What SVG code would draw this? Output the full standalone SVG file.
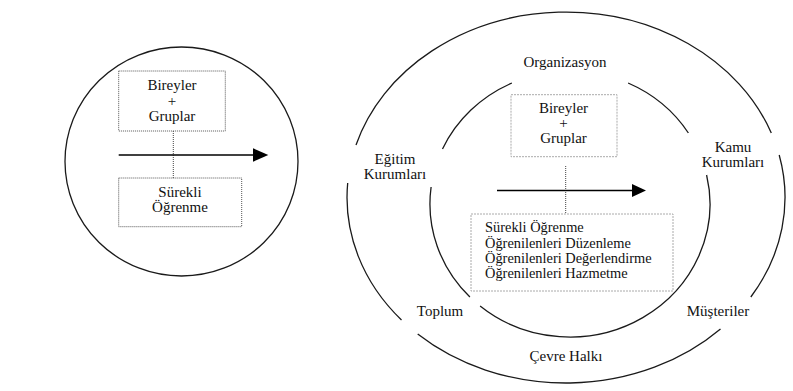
<svg xmlns="http://www.w3.org/2000/svg" width="793" height="391" viewBox="0 0 793 391">
<style>
.ring{fill:none;stroke:#1a1a1a;stroke-width:1.3}
.t{font-family:'Liberation Serif',serif;font-size:15px;fill:#111}
.s{font-size:14.4px}
.c{text-anchor:middle}
.dotbox{fill:#fff;stroke:#555;stroke-width:1;stroke-dasharray:1 1}
.dashbox{fill:#fff;stroke:#aaa;stroke-width:1;stroke-dasharray:2 1}
.dotline{stroke:#444;stroke-width:1;stroke-dasharray:1 1;fill:none}
.arrow{stroke:#000;stroke-width:1.6;fill:none}
</style>
<rect width="793" height="391" fill="#fff"/>
<g id="left-circle">
<ellipse class="ring" cx="181.5" cy="161.5" rx="116.5" ry="114.5"/>
</g>
<g id="outer-ring">
<path class="ring" d="M356,145 A219,185.5 0 0 1 771.3,133"/>
<path class="ring" d="M779.2,155 A219,185.5 0 0 1 750.8,297"/>
<path class="ring" d="M720.5,329 A219,185.5 0 0 1 417.7,334"/>
<path class="ring" d="M401.5,320 A219,185.5 0 0 1 347.7,183"/>
</g>
<g id="inner-ring">
<path class="ring" d="M442.5,149 A140,133 0 0 1 511.9,83"/>
<path class="ring" d="M628.1,83 A140,133 0 0 1 688.4,133"/>
<path class="ring" d="M706.6,175 A140,133 0 0 1 480.1,306"/>
<path class="ring" d="M469.9,297 A140,133 0 0 1 431.1,187"/>
</g>
<g id="connectors">
<line class="dotline" x1="173.3" y1="131" x2="173.3" y2="178"/>
<line class="arrow" x1="118.7" y1="155" x2="254" y2="155"/>
<polygon points="253,148.3 268.3,155 253,161.7" fill="#000"/>
<line class="dotline" x1="565.7" y1="166" x2="565.7" y2="214"/>
<line class="arrow" x1="497" y1="190.5" x2="633" y2="190.5"/>
<polygon points="632,184 646,190.5 632,197" fill="#000"/>
</g>
<g id="left-top-box">
<rect class="dotbox" x="118.7" y="71" width="106.6" height="60"/>
<text class="t c" x="172" y="90">Bireyler</text>
<text class="t c" x="172" y="106">+</text>
<text class="t c" x="172" y="121">Gruplar</text>
</g>
<g id="left-bottom-box">
<rect class="dotbox" x="118.7" y="178" width="123" height="48.7"/>
<text class="t c" x="180" y="197">Sürekli</text>
<text class="t c" x="180" y="212">Öğrenme</text>
</g>
<g id="right-top-box">
<rect class="dashbox" x="511" y="94.7" width="106" height="62"/>
<text class="t c" x="563.5" y="113">Bireyler</text>
<text class="t c" x="563.5" y="128">+</text>
<text class="t c" x="563.5" y="143">Gruplar</text>
</g>
<g id="right-bottom-box">
<rect class="dashbox" x="471" y="214" width="202" height="77"/>
<text class="t s" x="485" y="232">Sürekli Öğrenme</text>
<text class="t s" x="485" y="247.5">Öğrenilenleri Düzenleme</text>
<text class="t s" x="485" y="263">Öğrenilenleri Değerlendirme</text>
<text class="t s" x="485" y="278">Öğrenilenleri Hazmetme</text>
</g>
<g id="label-organizasyon"><text class="t c" x="565" y="67">Organizasyon</text></g>
<g id="label-egitim"><text class="t c" x="395" y="164">Eğitim</text><text class="t c" x="395" y="179">Kurumları</text></g>
<g id="label-kamu"><text class="t c" x="733" y="152">Kamu</text><text class="t c" x="733" y="167">Kurumları</text></g>
<g id="label-toplum"><text class="t c" x="440" y="316">Toplum</text></g>
<g id="label-musteriler"><text class="t c" x="718" y="316">Müşteriler</text></g>
<g id="label-cevre"><text class="t c" x="566" y="361">Çevre Halkı</text></g>
</svg>
